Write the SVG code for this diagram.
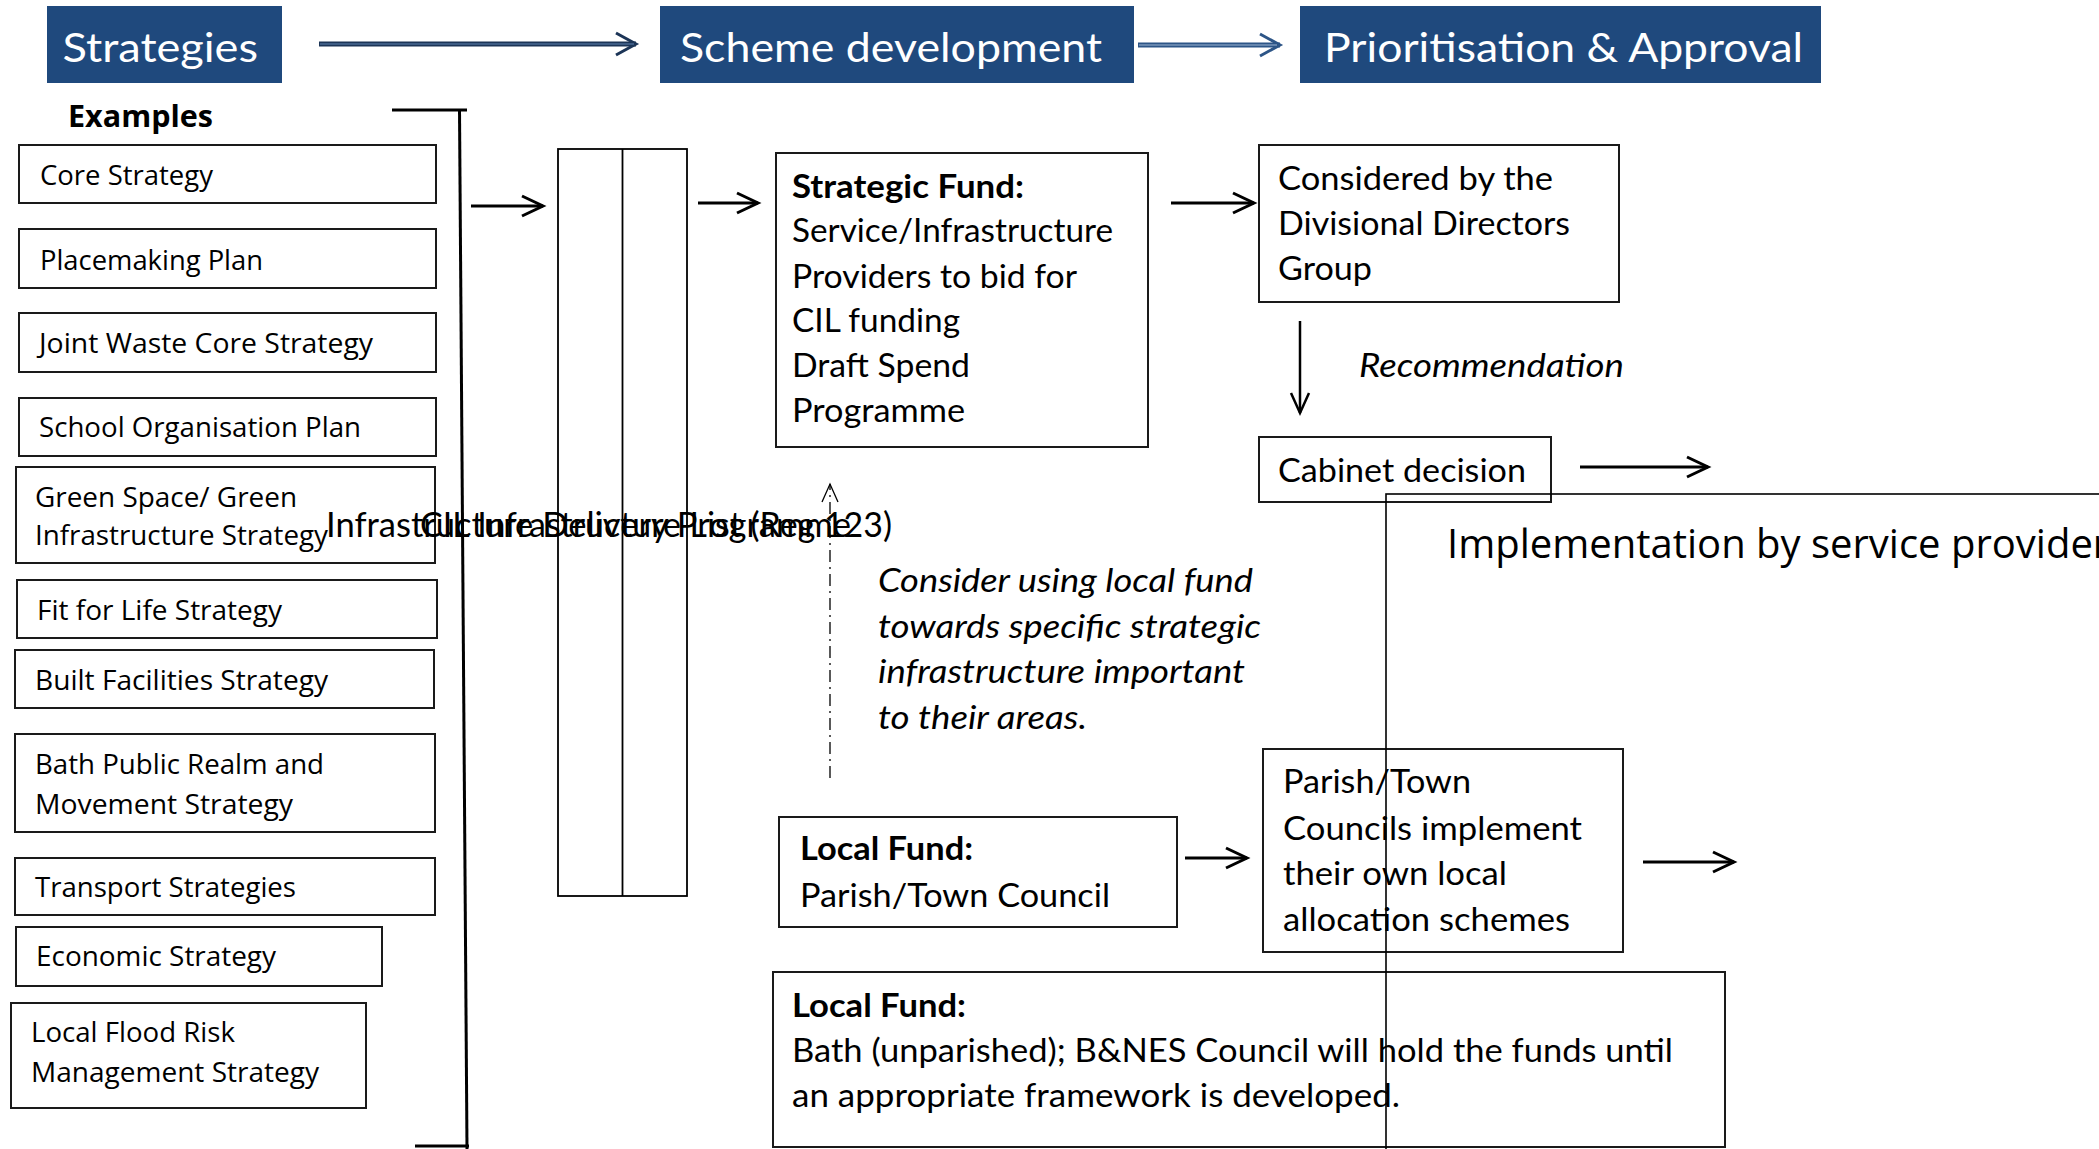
<svg xmlns="http://www.w3.org/2000/svg" width="2099" height="1149" viewBox="0 0 2099 1149">
<defs>
<style>
.hdr{fill:#1F497D}
.ht{font-family:Lato,"Open Sans",sans-serif;fill:#fff;font-size:40px}
.box{fill:#fff;stroke:#1a1a1a;stroke-width:2}
.ls{font-family:"Open Sans","Noto Sans",sans-serif;font-size:28px;fill:#000}
.cb{font-family:Lato,"Open Sans",sans-serif;font-size:33px;fill:#000}
.b{font-weight:bold}
.it{font-style:italic}
.ln{stroke:#000;stroke-width:3;fill:none}
</style>
<marker id="ah" markerUnits="userSpaceOnUse" markerWidth="40" markerHeight="40" viewBox="-30 -20 40 40" refX="0" refY="0" orient="auto" overflow="visible">
<path d="M-21,-10 L0,0 L-21,10" fill="none" stroke="#000" stroke-width="3"/>
</marker>
<marker id="ahs" markerUnits="userSpaceOnUse" markerWidth="40" markerHeight="40" viewBox="-30 -20 40 40" refX="0" refY="0" orient="auto" overflow="visible">
<path d="M-20,-9 L0,0 L-20,9" fill="none" stroke="#000" stroke-width="2.5"/>
</marker>
<marker id="ahd" markerUnits="userSpaceOnUse" markerWidth="40" markerHeight="40" viewBox="-30 -20 40 40" refX="0" refY="0" orient="auto" overflow="visible">
<path d="M-18,-8 L0,0 L-18,8" fill="none" stroke="#000" stroke-width="1.3"/>
</marker>
<marker id="ah1" markerUnits="userSpaceOnUse" markerWidth="40" markerHeight="40" viewBox="-30 -20 40 40" refX="0" refY="0" orient="auto" overflow="visible">
<path d="M-20,-11 L0,0 L-20,11" fill="none" stroke="#1c3557" stroke-width="3"/>
</marker>
<marker id="ah2" markerUnits="userSpaceOnUse" markerWidth="40" markerHeight="40" viewBox="-30 -20 40 40" refX="0" refY="0" orient="auto" overflow="visible">
<path d="M-20,-11 L0,0 L-20,11" fill="none" stroke="#2d5587" stroke-width="3"/>
</marker>
</defs>
<rect width="2099" height="1149" fill="#fff"/>

<g id="hdr-strategies">
<rect class="hdr" x="47" y="6" width="235" height="77"/>
<text class="ht" x="62.5" y="62" textLength="195.5" lengthAdjust="spacingAndGlyphs">Strategies</text>
</g>
<g id="hdr-scheme">
<rect class="hdr" x="660" y="6" width="474" height="77"/>
<text class="ht" x="680" y="62" textLength="422" lengthAdjust="spacingAndGlyphs">Scheme development</text>
</g>
<g id="hdr-prioritisation">
<rect class="hdr" x="1300" y="6" width="521" height="77"/>
<text class="ht" x="1324" y="62" textLength="479" lengthAdjust="spacingAndGlyphs">Prioritisation &amp; Approval</text>
</g>

<g id="examples-label">
<text class="ls b" x="68" y="127" style="font-size:30px" textLength="145" lengthAdjust="spacingAndGlyphs">Examples</text>
</g>

<g id="s-core"><rect class="box" x="19" y="145" width="417" height="58"/><text class="ls" x="40" y="185" textLength="173" lengthAdjust="spacingAndGlyphs">Core Strategy</text></g>
<g id="s-placemaking"><rect class="box" x="19" y="229" width="417" height="59"/><text class="ls" x="40" y="270" textLength="223" lengthAdjust="spacingAndGlyphs">Placemaking Plan</text></g>
<g id="s-waste"><rect class="box" x="19" y="313" width="417" height="59"/><text class="ls" x="39" y="353" textLength="334" lengthAdjust="spacingAndGlyphs">Joint Waste Core Strategy</text></g>
<g id="s-school"><rect class="box" x="19" y="398" width="417" height="58"/><text class="ls" x="39" y="437" textLength="322" lengthAdjust="spacingAndGlyphs">School Organisation Plan</text></g>
<g id="s-green"><rect class="box" x="16" y="467" width="419" height="96"/><text class="ls" x="35" y="507" textLength="262" lengthAdjust="spacingAndGlyphs">Green Space/ Green</text><text class="ls" x="35" y="545" textLength="293" lengthAdjust="spacingAndGlyphs">Infrastructure Strategy</text></g>
<g id="s-fit"><rect class="box" x="17" y="580" width="420" height="58"/><text class="ls" x="37" y="620" textLength="245" lengthAdjust="spacingAndGlyphs">Fit for Life Strategy</text></g>
<g id="s-built"><rect class="box" x="15" y="650" width="419" height="58"/><text class="ls" x="35" y="690" textLength="293" lengthAdjust="spacingAndGlyphs">Built Facilities Strategy</text></g>
<g id="s-bath"><rect class="box" x="15" y="734" width="420" height="98"/><text class="ls" x="35" y="774" textLength="289" lengthAdjust="spacingAndGlyphs">Bath Public Realm and</text><text class="ls" x="35" y="814" textLength="258" lengthAdjust="spacingAndGlyphs">Movement Strategy</text></g>
<g id="s-transport"><rect class="box" x="15" y="858" width="420" height="57"/><text class="ls" x="35" y="897" textLength="261" lengthAdjust="spacingAndGlyphs">Transport Strategies</text></g>
<g id="s-economic"><rect class="box" x="16" y="927" width="366" height="59"/><text class="ls" x="36" y="966" textLength="240" lengthAdjust="spacingAndGlyphs">Economic Strategy</text></g>
<g id="s-flood"><rect class="box" x="11" y="1003" width="355" height="105"/><text class="ls" x="31" y="1042" textLength="204" lengthAdjust="spacingAndGlyphs">Local Flood Risk</text><text class="ls" x="31" y="1082" textLength="288" lengthAdjust="spacingAndGlyphs">Management Strategy</text></g>

<g id="column">
<rect x="558" y="149" width="129" height="747" fill="#fff" stroke="#000" stroke-width="1.8"/>
<line x1="622.5" y1="149" x2="622.5" y2="896" stroke="#000" stroke-width="1.8"/>
<text class="cb" x="326" y="537" style="font-size:34px" textLength="525" lengthAdjust="spacingAndGlyphs">Infrastructure Delivery Programme</text>
<text class="cb" x="420" y="537" style="font-size:34px" textLength="472" lengthAdjust="spacingAndGlyphs">CIL Infrastructure List (Reg 123)</text>
</g>

<g id="strategic-fund">
<rect class="box" x="776" y="153" width="372" height="294"/>
<text class="cb b" x="792" y="198" textLength="232" lengthAdjust="spacingAndGlyphs">Strategic Fund:</text>
<text class="cb" x="792" y="242" textLength="321" lengthAdjust="spacingAndGlyphs">Service/Infrastructure</text>
<text class="cb" x="792" y="288" textLength="285" lengthAdjust="spacingAndGlyphs">Providers to bid for</text>
<text class="cb" x="792" y="332" textLength="168" lengthAdjust="spacingAndGlyphs">CIL funding</text>
<text class="cb" x="792" y="377" textLength="178" lengthAdjust="spacingAndGlyphs">Draft Spend</text>
<text class="cb" x="792" y="422" textLength="173" lengthAdjust="spacingAndGlyphs">Programme</text>
</g>

<g id="considered">
<rect class="box" x="1259" y="145" width="360" height="157"/>
<text class="cb" x="1278" y="190" textLength="275" lengthAdjust="spacingAndGlyphs">Considered by the</text>
<text class="cb" x="1278" y="235" textLength="292" lengthAdjust="spacingAndGlyphs">Divisional Directors</text>
<text class="cb" x="1278" y="280" textLength="94" lengthAdjust="spacingAndGlyphs">Group</text>
</g>

<g id="recommendation-label">
<text class="cb it" x="1359" y="377" textLength="265" lengthAdjust="spacingAndGlyphs">Recommendation</text>
</g>

<g id="cabinet">
<rect class="box" x="1259" y="437" width="292" height="65"/>
<text class="cb" x="1278" y="482" textLength="248" lengthAdjust="spacingAndGlyphs">Cabinet decision</text>
</g>

<g id="consider-note">
<text class="cb it" x="878" y="592" textLength="375" lengthAdjust="spacingAndGlyphs">Consider using local fund</text>
<text class="cb it" x="878" y="638" textLength="383" lengthAdjust="spacingAndGlyphs">towards specific strategic</text>
<text class="cb it" x="878" y="683" textLength="367" lengthAdjust="spacingAndGlyphs">infrastructure important</text>
<text class="cb it" x="878" y="729" textLength="209" lengthAdjust="spacingAndGlyphs">to their areas.</text>
</g>

<g id="local-parish">
<rect class="box" x="779" y="817" width="398" height="110"/>
<text class="cb b" x="800" y="860" textLength="173" lengthAdjust="spacingAndGlyphs">Local Fund:</text>
<text class="cb" x="800" y="907" textLength="310" lengthAdjust="spacingAndGlyphs">Parish/Town Council</text>
</g>

<g id="parish-implement">
<rect class="box" x="1263" y="749" width="360" height="203"/>
<text class="cb" x="1283" y="793" textLength="188" lengthAdjust="spacingAndGlyphs">Parish/Town</text>
<text class="cb" x="1283" y="840" textLength="299" lengthAdjust="spacingAndGlyphs">Councils implement</text>
<text class="cb" x="1283" y="885" textLength="224" lengthAdjust="spacingAndGlyphs">their own local</text>
<text class="cb" x="1283" y="931" textLength="287" lengthAdjust="spacingAndGlyphs">allocation schemes</text>
</g>

<g id="local-bath">
<rect class="box" x="773" y="972" width="952" height="175"/>
<text class="cb b" x="792" y="1017" textLength="174" lengthAdjust="spacingAndGlyphs">Local Fund:</text>
<text class="cb" x="792" y="1062" textLength="881" lengthAdjust="spacingAndGlyphs">Bath (unparished); B&amp;NES Council will hold the funds until</text>
<text class="cb" x="792" y="1107" textLength="608" lengthAdjust="spacingAndGlyphs">an appropriate framework is developed.</text>
</g>

<g id="connectors">
<line x1="319" y1="44" x2="636" y2="44" stroke="#1c3557" stroke-width="5" marker-end="url(#ah1)"/>
<line x1="320" y1="44" x2="634" y2="44" stroke="#5f82b0" stroke-width="1.2"/>
<line x1="1138" y1="45" x2="1280" y2="45" stroke="#2d5587" stroke-width="5" marker-end="url(#ah2)"/>
<line x1="1139" y1="45" x2="1277" y2="45" stroke="#9db5d3" stroke-width="1.2"/>
<polyline class="ln" points="392,110 467,110"/>
<line class="ln" x1="459.5" y1="110" x2="467" y2="1149"/>
<line class="ln" x1="415" y1="1146" x2="469" y2="1146"/>
<line class="ln" x1="471" y1="206" x2="543" y2="206" marker-end="url(#ah)"/>
<line class="ln" x1="698" y1="203" x2="758" y2="203" marker-end="url(#ah)"/>
<line class="ln" x1="1171" y1="203" x2="1254" y2="203" marker-end="url(#ah)"/>
<line x1="1300" y1="321" x2="1300" y2="413" stroke="#000" stroke-width="2.5" marker-end="url(#ahs)"/>
<line class="ln" x1="1580" y1="467" x2="1708" y2="467" marker-end="url(#ah)"/>
<line x1="830" y1="778" x2="830" y2="484" stroke="#000" stroke-width="1.3" stroke-dasharray="12 5 2 5" marker-end="url(#ahd)"/>
<line class="ln" x1="1185" y1="858" x2="1247" y2="858" marker-end="url(#ah)"/>
<line class="ln" x1="1643" y1="862" x2="1734" y2="862" marker-end="url(#ah)"/>
</g>

<g id="implementation">
<rect x="1386" y="494" width="760" height="700" fill="none" stroke="#000" stroke-width="1.6"/>
<text class="ls" x="1447" y="558" style="font-size:40px">Implementation by service provider</text>
</g>
</svg>
